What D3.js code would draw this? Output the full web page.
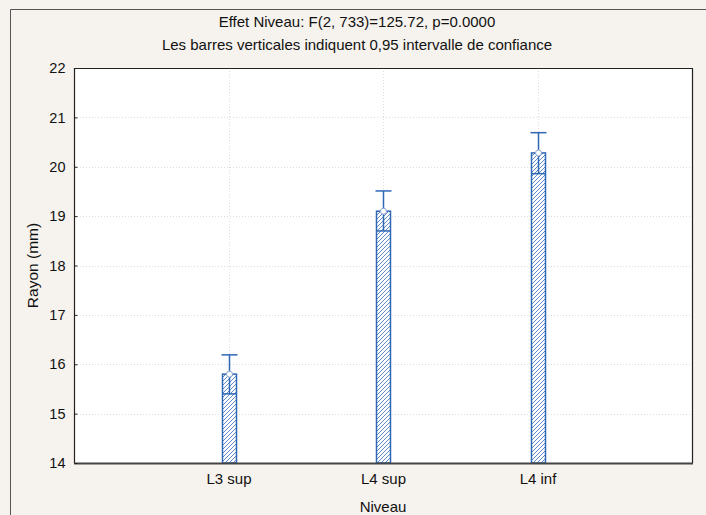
<!DOCTYPE html>
<html>
<head>
<meta charset="utf-8">
<script src="https://cdn.jsdelivr.net/npm/d3@7"></script>
<style>
  body { margin: 0; background: #fff; }
  svg { display: block; font-family: "Liberation Sans", Arial, sans-serif; }
</style>
</head>
<body>
<svg id="chart" width="706" height="515"></svg>
<script>
// chart data
const categories = ['L3 sup', 'L4 sup', 'L4 inf'];
const means = [15.80, 19.10, 20.28];
const ciLow = [15.40, 18.70, 19.86];
const ciHigh = [16.19, 19.51, 20.69];
const yTicks = [14, 15, 16, 17, 18, 19, 20, 21, 22];
const titleLines = ['Effet Niveau: F(2, 733)=125.72, p=0.0000',
  'Les barres verticales indiquent 0,95 intervalle de confiance'];

const svg = d3.select('#chart');
const W = 706, H = 515;
const margin = { left: 74, right: 14, top: 68, bottom: 52 };
const blue = '#2f67b5';

// background + outer frame
svg.append('rect').attr('width', W).attr('height', H).attr('fill', '#f6f2ed');
svg.append('path')
  .attr('d', `M10.5,${H} V9.5 H${W}`)
  .attr('fill', 'none').attr('stroke', '#555').attr('stroke-width', 1);

const x = d3.scalePoint()
  .domain(categories)
  .range([margin.left, W - margin.right])
  .padding(1);

const y = d3.scaleLinear()
  .domain([14, 22])
  .range([H - margin.bottom, margin.top]);

const x0 = margin.left, x1 = W - margin.right;
const y0 = y(14), y1 = y(22);

// plot area
svg.append('rect')
  .attr('x', x0).attr('y', y1).attr('width', x1 - x0).attr('height', y0 - y1)
  .attr('fill', '#fff');

// hatch pattern
const defs = svg.append('defs');
const pat = defs.append('pattern')
  .attr('id', 'hatch').attr('patternUnits', 'userSpaceOnUse')
  .attr('width', 4).attr('height', 4);
pat.append('rect').attr('width', 4).attr('height', 4).attr('fill', '#fff');
pat.append('path')
  .attr('d', 'M-1,1 l2,-2 M0,4 l4,-4 M3,5 l2,-2')
  .attr('stroke', '#4f7fc4').attr('stroke-width', 0.9);

// grid
svg.append('g').selectAll('line')
  .data(yTicks.slice(1, -1))
  .join('line')
  .attr('x1', x0).attr('x2', x1)
  .attr('y1', d => Math.round(y(d)) + 0.5).attr('y2', d => Math.round(y(d)) + 0.5)
  .attr('stroke', '#dcdcdc').attr('stroke-dasharray', '1,2');

svg.append('g').selectAll('line')
  .data(categories)
  .join('line')
  .attr('x1', d => Math.round(x(d)) + 0.5).attr('x2', d => Math.round(x(d)) + 0.5)
  .attr('y1', y1).attr('y2', y0)
  .attr('stroke', '#dcdcdc').attr('stroke-dasharray', '1,2');

// bars
const barW = 14;
const g = svg.append('g');
categories.forEach((c, i) => {
  const cx = Math.round(x(c)) + 0.5;
  g.append('rect')
    .attr('x', cx - barW / 2).attr('y', y(means[i]))
    .attr('width', barW).attr('height', y(14) - y(means[i]))
    .attr('fill', 'url(#hatch)')
    .attr('stroke', blue).attr('stroke-width', 1.5);
  // lower CI line across bar
  g.append('line')
    .attr('x1', cx - barW / 2).attr('x2', cx + barW / 2)
    .attr('y1', y(ciLow[i])).attr('y2', y(ciLow[i]))
    .attr('stroke', blue).attr('stroke-width', 1.5);
  // whisker stem
  g.append('line')
    .attr('x1', cx).attr('x2', cx)
    .attr('y1', y(ciLow[i])).attr('y2', y(ciHigh[i]))
    .attr('stroke', blue).attr('stroke-width', 1.5);
  // cap
  g.append('line')
    .attr('x1', cx - 8).attr('x2', cx + 8)
    .attr('y1', y(ciHigh[i])).attr('y2', y(ciHigh[i]))
    .attr('stroke', blue).attr('stroke-width', 1.5);
  // mean marker
  g.append('circle')
    .attr('cx', cx).attr('cy', y(means[i])).attr('r', 3)
    .attr('fill', '#fff').attr('stroke', '#8aa6d0').attr('stroke-width', 1);
});

// plot frame
svg.append('path')
  .attr('d', `M${x0 + 0.5},${y0} V${y1 + 0.5} H${x1 + 0.5} V${y0}`)
  .attr('fill', 'none').attr('stroke', '#222').attr('stroke-width', 1.2);
svg.append('line')
  .attr('x1', x0).attr('x2', x1 + 1)
  .attr('y1', y0 + 0.5).attr('y2', y0 + 0.5)
  .attr('stroke', '#444').attr('stroke-width', 2);

// y axis
const yAxis = svg.append('g')
  .attr('transform', `translate(${x0 + 0.5},0)`)
  .call(d3.axisLeft(y).tickValues(yTicks).tickSize(-3).tickPadding(9));
yAxis.select('.domain').remove();
yAxis.selectAll('.tick line').attr('stroke', '#222');
yAxis.selectAll('text').attr('font-size', 14.5).attr('fill', '#111')
  .attr('font-family', '"Liberation Sans", Arial, sans-serif');

// x axis labels
const xAxis = svg.append('g')
  .attr('transform', `translate(0,${y0})`)
  .call(d3.axisBottom(x).tickSize(0).tickPadding(10));
xAxis.select('.domain').remove();
xAxis.selectAll('text').attr('font-size', 15).attr('fill', '#111')
  .attr('font-family', '"Liberation Sans", Arial, sans-serif');

// titles
svg.selectAll('.title')
  .data(titleLines)
  .join('text')
  .attr('class', 'title')
  .attr('x', 357).attr('y', (d, i) => 27 + i * 23)
  .attr('text-anchor', 'middle').attr('font-size', 15).attr('fill', '#111')
  .text(d => d);

svg.append('text')
  .attr('x', x(categories[1])).attr('y', 512)
  .attr('text-anchor', 'middle').attr('font-size', 15).attr('fill', '#111')
  .text('Niveau');

svg.append('text')
  .attr('transform', `translate(38,${(y0 + y1) / 2}) rotate(-90)`)
  .attr('text-anchor', 'middle').attr('font-size', 15.5).attr('fill', '#111')
  .text('Rayon (mm)');
</script>
</body>
</html>
